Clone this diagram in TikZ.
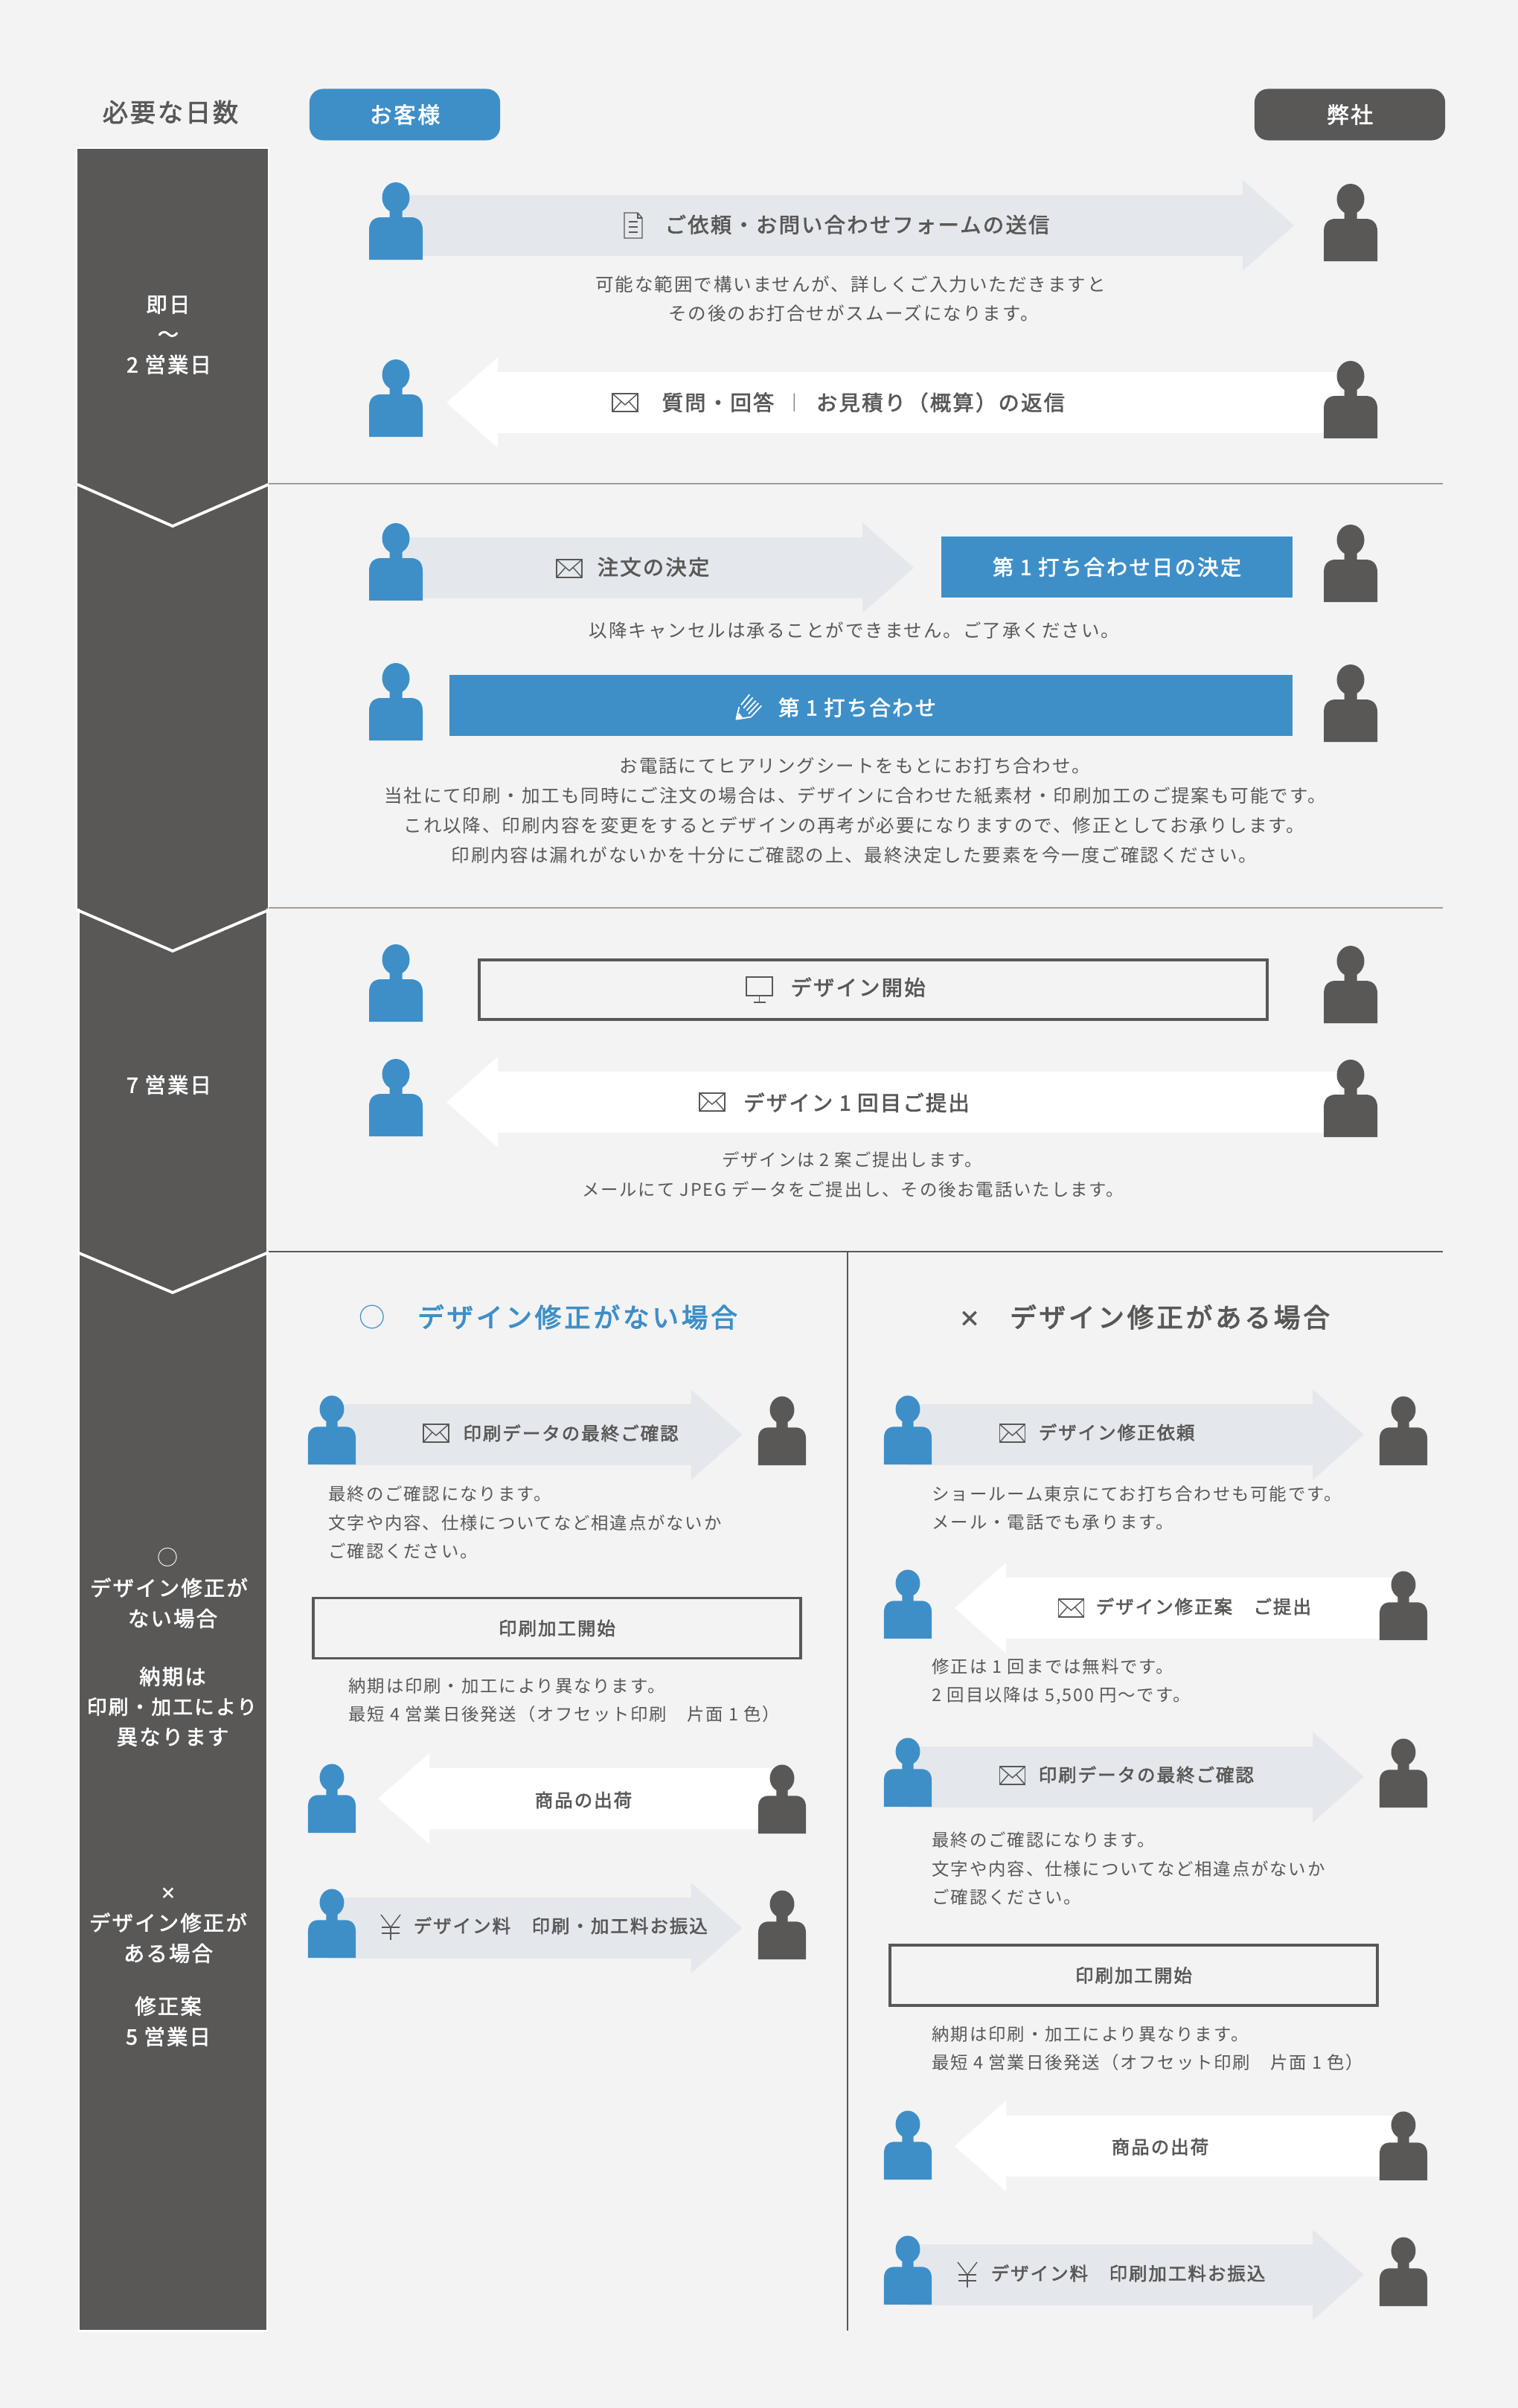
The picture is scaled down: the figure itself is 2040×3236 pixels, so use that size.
\documentclass[tikz,border=0pt]{standalone}
\usepackage{fontspec}
\setmainfont{Noto Sans CJK JP}[LetterSpace=8, BoldFont=Noto Sans CJK JP, BoldFeatures={FakeBold=2.2}]
\newfontfamily\wideface{Noto Sans CJK JP}[LetterSpace=11, BoldFont=Noto Sans CJK JP, BoldFeatures={FakeBold=3}]
\newfontfamily\markface{Noto Sans CJK JP}
\definecolor{pagebg}{HTML}{F3F3F3}
\definecolor{custblue}{HTML}{3E8FC8}
\definecolor{shopgray}{HTML}{595857}
\definecolor{flowgray}{HTML}{E4E8ED}
\definecolor{ruleline}{HTML}{A39C97}
\tikzset{
  bodytext/.style={inner sep=0, text=shopgray, font=\fontsize{6.97pt}{8pt}\selectfont, text height=6.13pt, text depth=.84pt},
  smalltext/.style={inner sep=0, text=shopgray, font=\fontsize{6.65pt}{8pt}\selectfont, text height=5.85pt, text depth=.8pt},
  labeltext/.style={inner sep=0, text=shopgray, font=\fontsize{8.05pt}{9pt}\selectfont\bfseries, text height=7pt, text depth=.96pt},
  smalllabel/.style={inner sep=0, text=shopgray, font=\fontsize{6.97pt}{8pt}\selectfont\bfseries, text height=6.13pt, text depth=.84pt},
  dayslabel/.style={labeltext, text=white},
  titletext/.style={inner sep=0, font=\fontsize{10.1pt}{12pt}\selectfont\wideface\bfseries, text height=8.9pt, text depth=1.2pt},
  markbold/.style={inner sep=0, font=\markface\bfseries},
  pill/.style={rectangle, rounded corners=.18cm, minimum width=2.56cm, minimum height=.69cm, inner sep=0, text=white, font=\fontsize{8.5pt}{9pt}\selectfont\bfseries},
  bluebox/.style={rectangle, fill=custblue, minimum height=.82cm, inner sep=0, text=white, font=\fontsize{8.05pt}{9pt}\selectfont\bfseries},
  linebox/.style={rectangle, draw=shopgray, line width=1.1pt, inner sep=0, text=shopgray},
  daycolumn/.style={fill=shopgray, draw=white, line width=.85pt},
  daymark/.style={draw=white, line width=1.1pt},
  iconline/.style={draw=shopgray, line width=.4pt},
  penline/.style={draw=white, line width=.5pt},
  pics/person/.style={code={
    \fill[#1] (0,-83.5) ellipse [x radius=18.5, y radius=20.5];
    \fill[#1] (-36,0) -- (-36,-40) .. controls (-36,-51) and (-30,-57) .. (-20,-57) -- (-8.5,-57) -- (-8.5,-68) -- (8.5,-68) -- (8.5,-57) -- (20,-57) .. controls (30,-57) and (36,-51) .. (36,-40) -- (36,0) -- cycle;
  }},
  pics/flowarrow/.style 2 args={code={
    \fill[#1] (0,0) -- (-69,-61) -- (-69,-41) -- (-#2,-41) -- (-#2,41) -- (-69,41) -- (-69,61) -- cycle;
  }},
  pics/mailicon/.style={code={
    \draw[iconline] (-17,-12) rectangle (17,12);
    \draw[iconline] (-17,-12) -- (0,3) -- (17,-12);
    \draw[iconline] (-17,12) -- (-5,-1.5);
    \draw[iconline] (17,12) -- (5,-1.5);
  }},
  pics/docicon/.style={code={
    \draw[iconline] (-12,-17) -- (6,-17) -- (12,-10) -- (12,17) -- (-12,17) -- cycle;
    \draw[iconline] (6,-17) -- (6,-10) -- (12,-10);
    \draw[iconline] (-6,-5) -- (6,-5);
    \draw[iconline] (-6,2) -- (6,2);
    \draw[iconline] (-6,9) -- (6,9);
  }},
  pics/screenicon/.style={code={
    \draw[iconline] (-17.5,-17) rectangle (17.5,8);
    \draw[iconline] (0,8) -- (0,17);
    \draw[iconline] (-8,17) -- (8,17);
  }},
  pics/yenicon/.style={code={
    \draw[iconline] (-13,-17) -- (0,0) -- (13,-17);
    \draw[iconline] (0,0) -- (0,17);
    \draw[iconline] (-12,0) -- (12,0);
    \draw[iconline] (-12,8) -- (12,8);
  }},
  pics/penicon/.style={code={
    \fill[white] (-17.7,16.7) -- (-14,8) -- (-9,14) -- cycle;
    \draw[penline] (-17.7,16.7) -- (-13.7,0);
    \draw[penline] (-17.7,16.7) -- (3,13.3);
    \draw[penline] (-11,-2.7) -- (.3,-16.7);
    \draw[penline] (-7.7,1.7) -- (4.7,-12.7);
    \draw[penline] (-3.7,5) -- (8.7,-8.3);
    \draw[penline] (-1,9.3) -- (12.3,-5);
    \draw[penline] (3,12.7) -- (16.3,-1.7);
  }}
}

\begin{document}
\begin{tikzpicture}[x=.01cm, y=-.01cm]
\fill[pagebg] (0,0) rectangle (2040,3236);

\draw[daycolumn] (103,199) -- (361,199) -- (361,1222) -- (359,1222) -- (359,3132) -- (106,3132) -- (106,1222) -- (103,1222) -- cycle;
\draw[daymark] (104,651) -- (232,707) -- (361,651);
\draw[daymark] (104,1223) -- (232,1278) -- (361,1223);
\draw[daymark] (104,1683) -- (232,1737) -- (361,1683);

\draw[ruleline, line width=.5pt] (361,650) -- (1939,650);
\draw[ruleline, line width=.5pt] (361,1220) -- (1939,1220);
\draw[shopgray, line width=.4pt] (361,1682) -- (1939,1682);
\draw[shopgray, line width=.4pt] (1139,1682) -- (1139,3132);

\node[labeltext, font=\fontsize{9.75pt}{10pt}\selectfont\bfseries] (1) at (229,153) {必要な日数};
\node[pill, fill=custblue] (2) at (544,154) {お客様};
\node[pill, fill=shopgray] (3) at (1814,154) {弊社};

\node[dayslabel] (4) at (226,409) {即日};
\node[dayslabel] (5) at (226,449) {～};
\node[dayslabel] (6) at (227,490) {2 営業日};
\node[dayslabel] (7) at (227,1458) {7 営業日};
\node[dayslabel, font=\fontsize{7.97pt}{9pt}\selectfont] (8) at (226,2093) {○};
\node[dayslabel] (9) at (227,2134) {デザイン修正が};
\node[dayslabel] (10) at (232,2175) {ない場合};
\node[dayslabel] (11) at (232,2253) {納期は};
\node[dayslabel, font=\fontsize{7.6pt}{9pt}\selectfont\bfseries] (12) at (231,2293) {印刷・加工により};
\node[dayslabel] (13) at (232,2334) {異なります};
\node[markbold, text=white, font=\fontsize{6.2pt}{9pt}\selectfont\markface\bfseries] (14) at (226,2545) {×};
\node[dayslabel] (15) at (226,2584) {デザイン修正が};
\node[dayslabel] (16) at (226,2625) {ある場合};
\node[dayslabel] (17) at (226,2696) {修正案};
\node[dayslabel] (18) at (226,2737) {5 営業日};

% first two rows
\pic at (1739,303) {flowarrow={flowgray}{1207}};
\pic[xscale=-1] at (600,541) {flowarrow={white}{1200}};
\pic at (532,349) {person=custblue};
\pic at (1815,351) {person=shopgray};
\pic at (532,587) {person=custblue};
\pic at (1815,589) {person=shopgray};
\pic at (851,303) {docicon};
\node[labeltext] (19) at (1152,302) {ご依頼・お問い合わせフォームの送信};
\node[bodytext] (20) at (1143,382) {可能な範囲で構いませんが、詳しくご入力いただきますと};
\node[bodytext] (21) at (1147,421) {その後のお打合せがスムーズになります。};
\pic at (840,541) {mailicon};
\node[labeltext] (22) at (965,541) {質問・回答};
\node[bodytext] (23) at (1068,541) {｜};
\node[labeltext] (24) at (1264,541) {お見積り（概算）の返信};

% order rows
\pic at (1228,763) {flowarrow={flowgray}{696}};
\pic at (532,807) {person=custblue};
\pic at (1815,809) {person=shopgray};
\pic at (532,995) {person=custblue};
\pic at (1815,997) {person=shopgray};
\pic at (765,764) {mailicon};
\node[labeltext] (25) at (878,762) {注文の決定};
\node[bluebox, minimum width=4.72cm] (26) at (1501,762) {第 1 打ち合わせ日の決定};
\node[bodytext] (27) at (1148,847) {以降キャンセルは承ることができません。ご了承ください。};
\node[bluebox, minimum width=11.33cm] (28) at (1170.5,948) {};
\pic at (1007,950) {penicon};
\node[labeltext, text=white] (29) at (1152,951) {第 1 打ち合わせ};
\node[bodytext] (30) at (1149,1029) {お電話にてヒアリングシートをもとにお打ち合わせ。};
\node[bodytext] (31) at (1149,1069) {当社にて印刷・加工も同時にご注文の場合は、デザインに合わせた紙素材・印刷加工のご提案も可能です。};
\node[bodytext] (32) at (1148,1109) {これ以降、印刷内容を変更をするとデザインの再考が必要になりますので、修正としてお承りします。};
\node[bodytext] (33) at (1148,1149) {印刷内容は漏れがないかを十分にご確認の上、最終決定した要素を今一度ご確認ください。};

% design rows
\pic[xscale=-1] at (600,1481) {flowarrow={white}{1200}};
\pic at (532,1373) {person=custblue};
\pic at (1815,1375) {person=shopgray};
\pic at (532,1527) {person=custblue};
\pic at (1815,1528) {person=shopgray};
\node[linebox, minimum width=10.59cm, minimum height=.8cm] (34) at (1173.5,1330) {};
\pic at (1020.5,1330) {screenicon};
\node[labeltext] (35) at (1153,1327) {デザイン開始};
\pic at (957,1481) {mailicon};
\node[labeltext] (36) at (1151,1482) {デザイン 1 回目ご提出};
\node[smalltext] (37) at (1145,1559) {デザインは 2 案ご提出します。};
\node[smalltext] (38) at (1146,1599) {メールにて JPEG データをご提出し、その後お電話いたします。};

% left branch
\node[titletext, text=custblue, font=\fontsize{10.1pt}{12pt}\selectfont\markface] (39) at (500,1770) {○};
\node[titletext, text=custblue] (40) at (776,1770) {デザイン修正がない場合};
\pic at (997.5,1928) {flowarrow={flowgray}{556}};
\pic[xscale=-1] at (508,2417) {flowarrow={white}{537}};
\pic at (997.5,2591) {flowarrow={flowgray}{556}};
\pic[scale=.89] at (446,1968) {person=custblue};
\pic[scale=.89] at (1051,1969) {person=shopgray};
\pic[scale=.89] at (446,2463) {person=custblue};
\pic[scale=.89] at (1051,2464) {person=shopgray};
\pic[scale=.89] at (446,2631) {person=custblue};
\pic[scale=.89] at (1051,2633) {person=shopgray};
\pic at (586,1926) {mailicon};
\node[smalllabel] (41) at (767,1926) {印刷データの最終ご確認};
\node[smalltext, anchor=west] (42) at (441,2008) {最終のご確認になります。};
\node[smalltext, anchor=west] (43) at (441,2047) {文字や内容、仕様についてなど相違点がないか};
\node[smalltext, anchor=west] (44) at (441,2085) {ご確認ください。};
\node[linebox, smalllabel, draw=shopgray, minimum width=6.55cm, minimum height=.81cm] (45) at (748.5,2188) {印刷加工開始};
\node[smalltext, anchor=west] (46) at (468,2266) {納期は印刷・加工により異なります。};
\node[smalltext, anchor=west] (47) at (468,2304) {最短 4 営業日後発送（オフセット印刷　片面 1 色）};
\node[smalllabel] (48) at (784,2419) {商品の出荷};
\pic at (525,2590) {yenicon};
\node[smalllabel, anchor=west] (49) at (555,2588) {デザイン料　印刷・加工料お振込};

% right branch
\node[markbold, text=shopgray, font=\fontsize{8.5pt}{10pt}\selectfont\markface\bfseries] (50) at (1303,1773) {×};
\node[titletext, text=shopgray] (51) at (1572,1770) {デザイン修正がある場合};
\pic at (1833,1928) {flowarrow={flowgray}{613}};
\pic[xscale=-1] at (1283,2161) {flowarrow={white}{592}};
\pic at (1833,2388) {flowarrow={flowgray}{613}};
\pic[xscale=-1] at (1283,2884) {flowarrow={white}{592}};
\pic at (1833,3057) {flowarrow={flowgray}{613}};
\pic[scale=.89] at (1220,1968) {person=custblue};
\pic[scale=.89] at (1886,1969) {person=shopgray};
\pic[scale=.89] at (1220,2202) {person=custblue};
\pic[scale=.89] at (1886,2204) {person=shopgray};
\pic[scale=.89] at (1220,2428) {person=custblue};
\pic[scale=.89] at (1886,2429) {person=shopgray};
\pic[scale=.89] at (1220,2929) {person=custblue};
\pic[scale=.89] at (1886,2930) {person=shopgray};
\pic[scale=.89] at (1220,3097) {person=custblue};
\pic[scale=.89] at (1886,3099) {person=shopgray};
\pic at (1360.5,1926) {mailicon};
\node[smalllabel, anchor=west] (52) at (1395,1925) {デザイン修正依頼};
\node[smalltext, anchor=west] (53) at (1252,2008) {ショールーム東京にてお打ち合わせも可能です。};
\node[smalltext, anchor=west] (54) at (1252,2046) {メール・電話でも承ります。};
\pic at (1439.5,2161) {mailicon};
\node[smalllabel, anchor=west] (55) at (1472,2159) {デザイン修正案　ご提出};
\node[smalltext, anchor=west] (56) at (1252,2240) {修正は 1 回までは無料です。};
\node[smalltext, anchor=west] (57) at (1252,2278) {2 回目以降は 5,500 円～です。};
\pic at (1360.5,2386) {mailicon};
\node[smalllabel, anchor=west] (58) at (1395,2385) {印刷データの最終ご確認};
\node[smalltext, anchor=west] (59) at (1252,2473) {最終のご確認になります。};
\node[smalltext, anchor=west] (60) at (1252,2512) {文字や内容、仕様についてなど相違点がないか};
\node[smalltext, anchor=west] (61) at (1252,2550) {ご確認ください。};
\node[linebox, smalllabel, draw=shopgray, minimum width=6.55cm, minimum height=.81cm] (62) at (1523.5,2654.5) {印刷加工開始};
\node[smalltext, anchor=west] (63) at (1252,2734) {納期は印刷・加工により異なります。};
\node[smalltext, anchor=west] (64) at (1252,2772) {最短 4 営業日後発送（オフセット印刷　片面 1 色）};
\node[smalllabel] (65) at (1559,2885) {商品の出荷};
\pic at (1300,3057) {yenicon};
\node[smalllabel, anchor=west] (66) at (1331,3055) {デザイン料　印刷加工料お振込};
\end{tikzpicture}
\end{document}
